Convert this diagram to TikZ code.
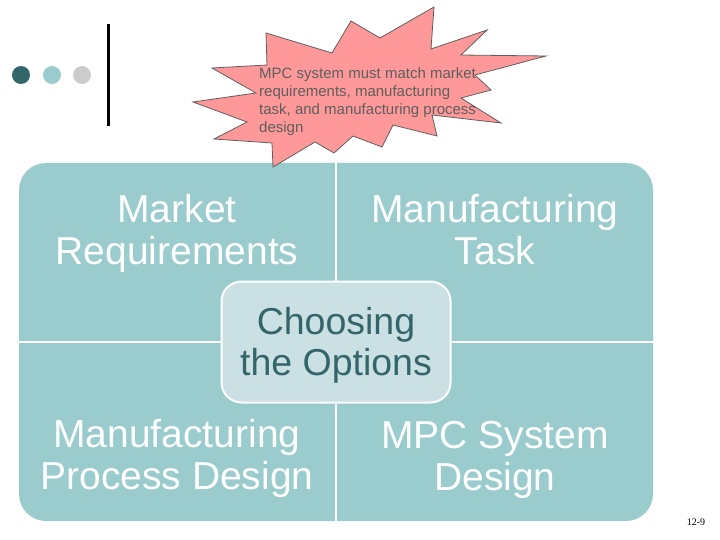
\documentclass[tikz,border=0pt]{standalone}
\usepackage{fontspec}
\setmainfont{Liberation Sans}
\newfontfamily\slidefont{Liberation Serif}
\definecolor{mypanel}{rgb}{0.604,0.796,0.804}
\definecolor{mycentre}{rgb}{0.792,0.878,0.886}
\definecolor{mydark}{rgb}{0.2,0.4,0.42}
\definecolor{mystar}{rgb}{1,0.6,0.6}
\definecolor{mygrey}{rgb}{0.8,0.8,0.8}
\definecolor{myedge}{rgb}{0.37,0.37,0.37}
\tikzset{
    quad/.style={
           text=white,
           align=center,
           font=\fontsize{39}{42}\selectfont,
           },
    hub/.style={
           text=mydark,
           align=center,
           font=\fontsize{37.5}{41}\selectfont,
           },
    dot/.style={
           circle,
           minimum size=18,
           inner sep=0,
           },
    divider/.style={white, line width=1.5},
}
\begin{document}
\begin{tikzpicture}[x=1pt,y=-1pt]
  \useasboundingbox (0,0) rectangle (720,540);
  \node[dot, fill=mydark]   (D1) at (21, 75) {};
  \node[dot, fill=mypanel]  (D2) at (52, 75) {};
  \node[dot, fill=mygrey]   (D3) at (82, 75) {};
  \coordinate (BT) at (108, 24);
  \coordinate (BB) at (108, 126);
  \draw[line width=3] (BT) -- (BB);
  % panel
  \node[fill=mypanel, rounded corners=27, minimum width=634, minimum height=358, inner sep=0] (P) at (336, 342) {};
  \node[fill=mycentre, draw=white, line width=2, rounded corners=20, minimum width=229, minimum height=121, inner sep=0] (C) at (336, 342) {};
  \draw[divider] (P.north) -- (C.north);
  \draw[divider] (C.south) -- (P.south);
  \draw[divider] (P.west)  -- (C.west);
  \draw[divider] (C.east)  -- (P.east);
  \node[quad] (A) at (177, 233) {Market\\Requirements};
  \node[quad] (B) at (495, 230) {Manufacturing\\Task};
  \node[quad] (E) at (177, 458) {Manufacturing\\Process Design};
  \node[quad] (F) at (495, 460) {MPC System\\Design};
  \node[hub] (G) at (336, 345) {Choosing\\the Options};
  % star
  \draw[myedge, fill=mystar, line width=0.8]
    (434,7) -- (431,49) -- (487,30) -- (461,55) -- (546,56) -- (475,75) -- (491,90)
    -- (461,98) -- (501,123) -- (432,115) -- (437,136) -- (393,125) -- (382,147)
    -- (353,136) -- (334,153) -- (315,142) -- (273,167) -- (272,143) -- (214,139)
    -- (247,122) -- (193,102) -- (256,93) -- (212,68) -- (267,65) -- (266,33)
    -- (332,53) -- (351,21) -- (380,38) -- cycle;
  \node[text=myedge, align=left, anchor=north west, inner sep=0, font=\fontsize{15}{18}\selectfont] (T) at (259, 67)
    {MPC system must match market\\requirements, manufacturing\\task, and manufacturing process\\design};
  \node[font=\slidefont\fontsize{10}{10}\selectfont] (N) at (696, 522) {12-9};
\end{tikzpicture}
\end{document}
